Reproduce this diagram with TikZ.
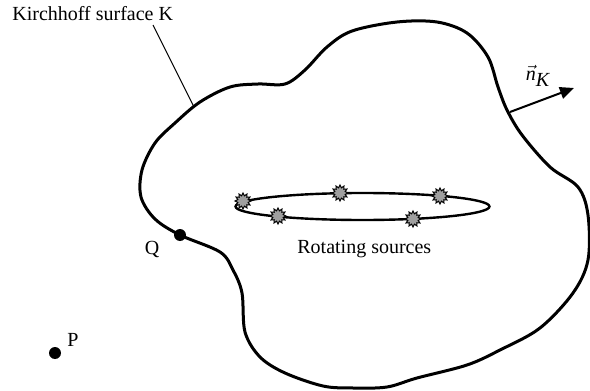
\documentclass[tikz,border=0pt]{standalone}
\usepackage{fontspec}
\setmainfont{Liberation Serif}
\usetikzlibrary{shapes.geometric,arrows.meta}
\begin{document}
\begin{tikzpicture}[x=0.5pt,y=-0.5pt,every node/.style={font=\normalsize},
  surface/.style={line width=1.5pt,line join=round},
  orbit/.style={line width=1.2pt},
  source/.style={star,star points=12,star point ratio=1.5,minimum size=8pt,inner sep=0pt,fill=gray!75,draw=black,line width=0.5pt},
  dot/.style={circle,fill=black,minimum size=6pt,inner sep=0pt},
  lbl/.style={inner sep=0pt}]
\useasboundingbox (0,0) rectangle (590,391);
% the Kirchhoff surface
\draw[surface] plot[smooth cycle,tension=0.55] coordinates {
  (142,170) (155,143) (175,123) (200,102) (230,87) (258,84) (285,84)
  (305,70) (327,47) (352,31) (397,22) (437,22) (467,33) (488,57) (498,87)
  (507,110) (522,135) (550,167) (578,187) (588,215) (588,260) (573,293)
  (540,328) (500,350) (467,365) (417,378) (387,387) (353,388) (323,386)
  (285,373) (260,357) (245,332) (242,293) (233,270) (220,252) (180,235)
  (155,219) (141,197)};
\coordinate (kpt) at (194,107);
\coordinate (nbase) at (510,112);
\coordinate (ntip) at (574,88);
% rotating sources
\draw[orbit] (362.5,206.5) ellipse [x radius=127,y radius=13.5];
\node[source] (s1) at (243,201) {};
\node[source] (s2) at (340,193) {};
\node[source] (s3) at (440,196) {};
\node[source] (s4) at (278,216) {};
\node[source] (s5) at (413,219) {};
\node[lbl,anchor=base west] (rot) at (297,253) {Rotating sources};
% labels and points
\node[lbl,anchor=base west] (kirch) at (12,20) {Kirchhoff surface K};
\draw[line width=0.5pt] (153,25) -- (kpt);
\draw[line width=1pt,-{Triangle[length=7pt,width=6pt]}] (nbase) -- (ntip);
\node[lbl] (nK) at (538,76) {$\vec{\textit{n}}_{\textit{K}}$};
\node[dot] (Q) at (180,235) {};
\node[lbl] (Qlbl) at (152,249) {Q};
\node[dot] (P) at (55,353) {};
\node[lbl] (Plbl) at (73,340) {P};
\end{tikzpicture}
\end{document}
